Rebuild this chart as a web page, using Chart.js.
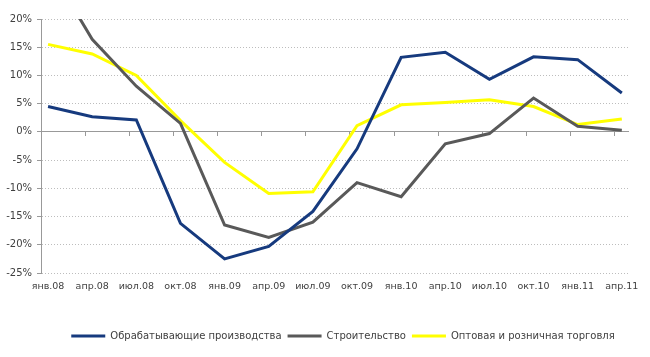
<!DOCTYPE html>
<html><head><meta charset="utf-8">
<script src="https://cdn.jsdelivr.net/npm/chart.js@4"></script>
<style>html,body{margin:0;padding:0;background:#fff}canvas{display:block}</style>
</head><body>
<canvas id="c" width="650" height="357"></canvas>
<script>
const categories = ['янв.08','апр.08','июл.08','окт.08','янв.09','апр.09','июл.09','окт.09','янв.10','апр.10','июл.10','окт.10','янв.11','апр.11'];
const manufacturing = [4.5, 2.7, 2.1, -16.2, -22.5, -20.3, -14.1, -3.0, 13.2, 14.1, 9.3, 13.3, 12.8, 6.9];
const construction = [29.5, 16.4, 8.1, 1.5, -16.5, -18.7, -16.0, -9.0, -11.5, -2.1, -0.3, 6.0, 1.0, 0.3];
const trade = [15.5, 13.8, 10.0, 2.0, -5.4, -10.9, -10.6, 1.1, 4.8, 5.2, 5.7, 4.5, 1.3, 2.3];
const seriesNames = ['Обрабатывающие производства', 'Строительство', 'Оптовая и розничная торговля'];
const yTicks = {min: -25, max: 20, step: 5};

const FONT = 'DejaVu Sans';
const TXT = '#404040';
const colors = ['#163a7e', '#595959', '#ffff00'];
const toPoints = arr => arr.map((v, i) => ({x: i, y: v}));
const mk = (label, data, color) => ({
  label, data: toPoints(data), borderColor: color, backgroundColor: color, borderWidth: 3,
  pointRadius: 0, tension: 0, fill: false, xAxisID: 'x', yAxisID: 'y'
});

const legendShift = {
  id: 'legendShift',
  afterLayout(chart) {
    const lg = chart.legend;
    if (lg) { lg.left += 29; lg.right += 29; }
  }
};

const X_MIN = -0.16, X_MAX = 13.14;

new Chart(document.getElementById('c'), {
  type: 'line',
  data: {
    datasets: [
      mk(seriesNames[0], manufacturing, colors[0]),
      mk(seriesNames[1], construction, colors[1]),
      mk(seriesNames[2], trade, colors[2])
    ]
  },
  options: {
    responsive: false,
    animation: false,
    layout: {padding: {top: 19, right: 22, bottom: 6, left: 0}},
    plugins: {
      legend: {
        position: 'bottom',
        labels: {
          usePointStyle: true, pointStyle: 'line', pointStyleWidth: 34,
          boxHeight: 3, padding: 6,
          color: TXT, font: {family: FONT, size: 10}
        }
      },
      tooltip: {enabled: false}
    },
    scales: {
      y: {
        min: yTicks.min, max: yTicks.max,
        afterFit(s) { s.width = 41; },
        ticks: {stepSize: yTicks.step, callback: v => v + '%', color: TXT, font: {family: FONT, size: 10}, padding: 5},
        grid: {color: '#bdbdbd', lineWidth: 1, tickLength: 4, tickColor: '#999', tickBorderDash: []},
        border: {display: true, color: '#999', dash: [1, 2]}
      },
      x: {
        type: 'linear',
        position: {y: 0},
        min: X_MIN, max: X_MAX,
        afterBuildTicks(s) { s.ticks = categories.slice(1).map((c, i) => ({value: i + 0.84})); },
        ticks: {display: false},
        grid: {drawOnChartArea: false, drawTicks: true, tickLength: 4, color: '#999'},
        border: {display: true, color: '#999', width: 1}
      },
      x2: {
        type: 'linear',
        position: 'bottom',
        min: X_MIN, max: X_MAX,
        afterBuildTicks(s) { s.ticks = categories.map((c, i) => ({value: i})); },
        afterFit(s) { s.height = 52; },
        ticks: {callback: v => categories[v], color: TXT, font: {family: FONT, size: 9.5}, padding: 8, maxRotation: 0, autoSkip: false},
        grid: {display: false, drawTicks: false},
        border: {display: false}
      }
    }
  },
  plugins: [legendShift]
});
</script>
</body></html>
